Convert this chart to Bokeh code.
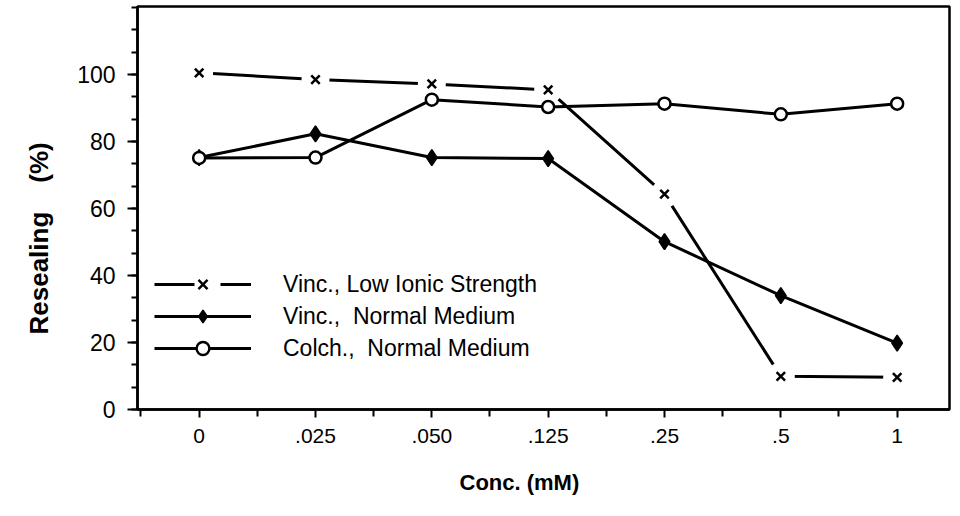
from bokeh.plotting import figure
from bokeh.models import Range1d, FixedTicker, Legend, LegendItem, ColumnDataSource, Title
from bokeh.embed import file_html
from bokeh.resources import INLINE

# ---- data ----
conc_labels = ["0", ".025", ".050", ".125", ".25", ".5", "1"]
low_ionic = [100.5, 98.5, 97.2, 95.4, 64.3, 9.9, 9.6]      # Vinc., Low Ionic Strength
vinc_normal = [75.2, 82.3, 75.2, 74.9, 50.1, 34.0, 19.8]   # Vinc., Normal Medium
colch_normal = [75.1, 75.2, 92.5, 90.3, 91.3, 88.1, 91.3]  # Colch., Normal Medium
y_ticks = [0, 20, 40, 60, 80, 100]
y_minor_ticks = [k * 20 / 3 for k in range(19)]

x = list(range(len(conc_labels)))
x_minor = [i - 0.5 for i in range(len(conc_labels) + 1)]

FONT = "Liberation Sans"

p = figure(width=960, height=516, output_backend="svg", toolbar_location=None,
           x_range=Range1d(-0.53, 6.45), y_range=Range1d(0, 120.3),
           min_border_left=136, min_border_right=11, min_border_top=6,
           min_border_bottom=106)

p.background_fill_color = "white"
p.border_fill_color = "white"
p.outline_line_color = "black"
p.outline_line_width = 2.5
p.xgrid.visible = False
p.ygrid.visible = False

# axes
p.xaxis.ticker = FixedTicker(ticks=x, minor_ticks=x_minor)
p.xaxis.major_label_overrides = {i: lab for i, lab in zip(x, conc_labels)}
p.yaxis.ticker = FixedTicker(ticks=y_ticks, minor_ticks=y_minor_ticks)

for ax in (p.xaxis, p.yaxis):
    ax.axis_line_color = "black"
    ax.axis_line_width = 2.5
    ax.major_tick_line_color = "black"
    ax.major_tick_line_width = 2
    ax.minor_tick_line_color = "black"
    ax.minor_tick_line_width = 2
    ax.major_tick_in = 0
    ax.minor_tick_in = 0
    ax.major_label_text_font = FONT
    ax.major_label_text_color = "black"

p.xaxis.major_label_text_font_size = "21px"
p.yaxis.major_label_text_font_size = "23px"
p.xaxis.major_tick_out = 8
p.xaxis.minor_tick_out = 7
p.yaxis.major_tick_out = 10
p.yaxis.minor_tick_out = 6
p.xaxis.major_label_standoff = 11
p.yaxis.major_label_standoff = 12

# axis titles (side titles, offset like the reference)
x_title = Title(text="Conc. (mM)", align="left", offset=322, standoff=44,
                text_font=FONT, text_font_size="22px", text_font_style="bold",
                text_color="black")
y_title = Title(text="Resealing\u00a0\u00a0\u00a0\u00a0(%)", align="left", offset=75,
                standoff=42, text_font=FONT, text_font_size="26px",
                text_font_style="bold", text_color="black")
p.add_layout(x_title, "below")
p.add_layout(y_title, "left")

src = ColumnDataSource(dict(x=x, low=low_ionic, vinc=vinc_normal, colch=colch_normal))

LW = 3
r_low_line = p.line("x", "low", source=src, line_color="black", line_width=LW)
p.scatter("x", "low", source=src, marker="circle", size=28,
          fill_color="white", line_color=None)
r_vinc_line = p.line("x", "vinc", source=src, line_color="black", line_width=LW)
r_colch_line = p.line("x", "colch", source=src, line_color="black", line_width=LW)
r_vinc_pts = p.scatter("x", "vinc", source=src, marker="diamond", size=16,
                       fill_color="black", line_color="black", line_width=1.5)
r_colch_pts = p.scatter("x", "colch", source=src, marker="circle", size=12,
                        fill_color="white", line_color="black", line_width=2.5)
r_low_pts = p.scatter("x", "low", source=src, marker="x", size=12,
                      line_color="black", line_width=2.5)

# legend-only dashed line for the low-ionic series (no visible data)
leg_low_line = p.line(x=[0], y=[float("nan")], line_color="black", line_width=LW,
                      line_dash="40 26")

legend = Legend(items=[
    LegendItem(label="Vinc., Low Ionic Strength", renderers=[leg_low_line, r_low_pts]),
    LegendItem(label="Vinc.,  Normal Medium", renderers=[r_vinc_line, r_vinc_pts]),
    LegendItem(label="Colch.,  Normal Medium", renderers=[r_colch_line, r_colch_pts]),
], location=(17, 45))
legend.border_line_color = None
legend.background_fill_alpha = 0
legend.padding = 0
legend.margin = 0
legend.spacing = 0
legend.glyph_width = 97
legend.glyph_height = 32
legend.label_standoff = 32
legend.label_text_font = FONT
legend.label_text_font_size = "23px"
legend.label_text_color = "black"
legend.label_height = 32
p.add_layout(legend)

open("out.html", "w").write(file_html(p, INLINE))
